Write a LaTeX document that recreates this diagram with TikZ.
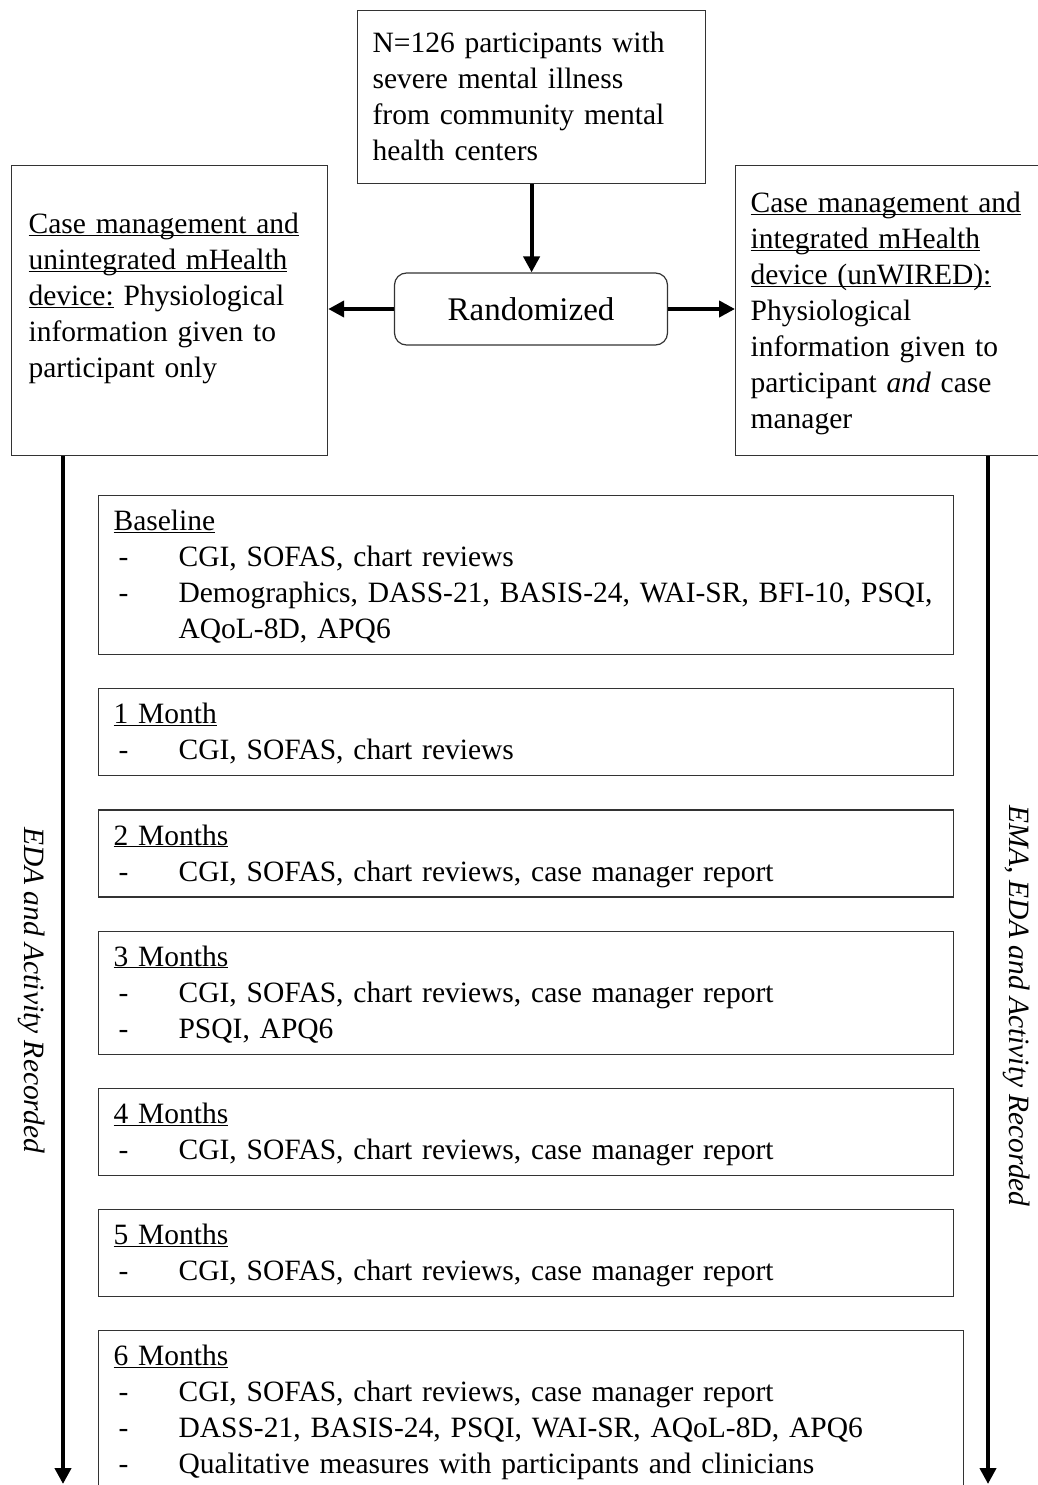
\documentclass[tikz,border=0pt]{standalone}
\usepackage{fontspec}
\setmainfont{Liberation Serif}
\usetikzlibrary{arrows.meta,positioning}

\newcommand\undl[1]{$\underline{\smash{\hbox{#1}}}$}
\newcommand\measure[1]{\hspace*{5pt}\makebox[60pt][l]{-}#1}

\tikzset{
  box/.style={draw=black!80,line width=1.2pt,anchor=north west,align=left,
    inner xsep=15pt,inner ysep=0pt,font=\fontsize{29.5}{36}\selectfont},
  visit/.style={box,text width=825pt,text height=35pt},
  flow/.style={line width=4pt,-{Triangle[length=16pt,width=16pt]}},
  recorded/.style={rotate=-90,font=\fontsize{29.5}{36}\selectfont\itshape}
}

\begin{document}
\begin{tikzpicture}[x=1pt,y=-1pt]
  \useasboundingbox (0,0) rectangle (1038,1485);
  \clip (0,0) rectangle (1038,1485);
  % sample
  \node [box,text width=318pt,text height=42pt,text depth=131pt]
    at (357,10) (src)
    {N=126 participants with\\severe mental illness\\from community mental\\health centers}
  ;
  \node [draw=black!80,line width=1.2pt,rounded corners=12pt,
      minimum width=273pt,minimum height=72pt,font=\fontsize{33}{40}\selectfont]
    at (531,309) (rand) {Randomized}
  ;
  % arms
  \node [box,inner xsep=17pt,text width=282pt,text height=68pt,text depth=222pt]
    at (11,165) (ctrl)
    {\undl{Case management and}\\\undl{unintegrated mHealth}\\
     \undl{device:} Physiological\\information given to\\participant only}
  ;
  \node [box,text width=280pt,text height=47pt,text depth=243pt]
    at (735,165) (intv)
    {\undl{Case management and}\\\undl{integrated mHealth}\\
     \undl{device (unWIRED):}\\Physiological\\information given to\\
     participant \textit{and} case\\manager}
  ;
  \draw [flow] (src.south) -- (src.south |- rand.north);
  \draw [flow] (rand.west) -- (rand.west -| ctrl.east);
  \draw [flow] (rand.east) -- (rand.east -| intv.west);
  % timeline
  \node [visit,text depth=124pt] at (98,495) (base)
    {\undl{Baseline}\\
     \measure{CGI, SOFAS, chart reviews}\\
     \measure{Demographics, DASS-21, BASIS-24, WAI-SR, BFI-10, PSQI,}\\
     \hspace*{65pt}AQoL-8D, APQ6}
  ;
  \node [visit,text depth=52pt,below right=33pt and 0pt of base.south west] (m1)
    {\undl{1 Month}\\
     \measure{CGI, SOFAS, chart reviews}}
  ;
  \node [visit,text depth=52pt,below right=33pt and 0pt of m1.south west] (m2)
    {\undl{2 Months}\\
     \measure{CGI, SOFAS, chart reviews,  case manager report}}
  ;
  \node [visit,text depth=88pt,below right=33pt and 0pt of m2.south west] (m3)
    {\undl{3 Months}\\
     \measure{CGI, SOFAS, chart reviews,  case manager report}\\
     \measure{PSQI, APQ6}}
  ;
  \node [visit,text depth=52pt,below right=33pt and 0pt of m3.south west] (m4)
    {\undl{4 Months}\\
     \measure{CGI, SOFAS, chart reviews,  case manager report}}
  ;
  \node [visit,text depth=52pt,below right=33pt and 0pt of m4.south west] (m5)
    {\undl{5 Months}\\
     \measure{CGI, SOFAS, chart reviews,  case manager report}}
  ;
  \node [visit,text width=835pt,text depth=124pt,below right=33pt and 0pt of m5.south west] (m6)
    {\undl{6 Months}\\
     \measure{CGI, SOFAS, chart reviews,  case manager report}\\
     \measure{DASS-21, BASIS-24, PSQI, WAI-SR, AQoL-8D, APQ6}\\
     \measure{Qualitative  measures with participants and clinicians}}
  ;
  % recording
  \coordinate (ctrlend) at (63,1484);
  \coordinate (intvend) at (988,1484);
  \draw [flow] (ctrl.south -| ctrlend) -- (ctrlend);
  \draw [flow] (intv.south -| intvend) -- (intvend);
  \node [recorded] at (32,990) (ctrlrec) {EDA and Activity Recorded};
  \node [recorded] at (1017,1006) (intvrec) {EMA, EDA and Activity Recorded};
\end{tikzpicture}
\end{document}
